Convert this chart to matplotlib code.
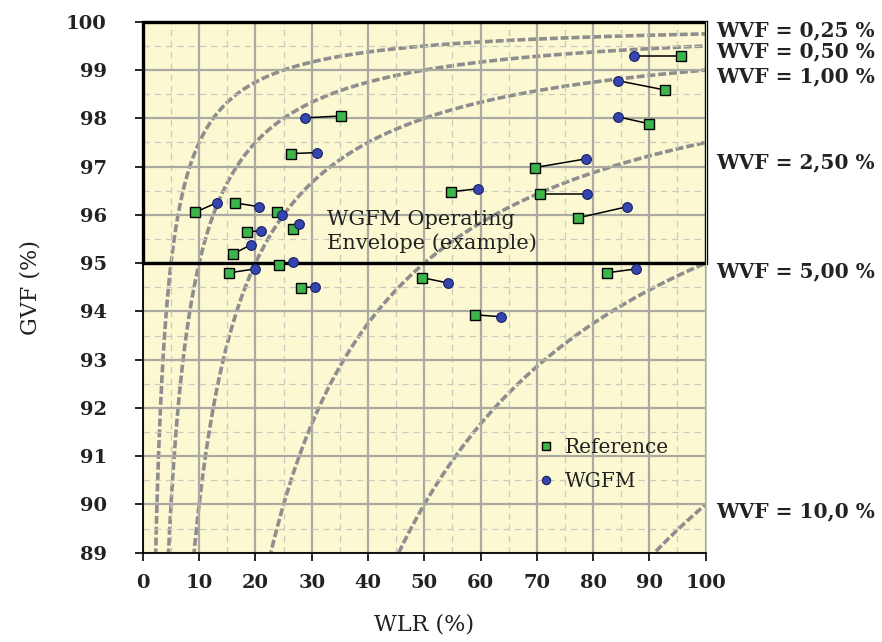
import numpy as np
import matplotlib.pyplot as plt
from matplotlib.patches import Rectangle

plt.rcParams['font.family'] = ['DejaVu Serif']

# Reference meter readings (WLR %, GVF %)
ref_wlr = [9.2, 16.3, 23.8, 26.6, 18.5, 16.0, 15.3, 24.2, 28.1, 49.6, 35.2,
           26.3, 95.7, 92.7, 89.9, 69.6, 54.7, 70.5, 77.4, 82.4, 59.1]
ref_gvf = [96.05, 96.25, 96.06, 95.71, 95.65, 95.19, 94.80, 94.97, 94.49, 94.70, 98.05,
           97.27, 99.30, 98.59, 97.89, 96.98, 96.48, 96.44, 95.94, 94.80, 93.93]

# WGFM readings, same order
wgfm_wlr = [13.1, 20.6, 24.7, 27.7, 21.0, 19.2, 19.9, 26.6, 30.6, 54.2, 28.8,
            30.9, 87.2, 84.4, 84.5, 78.7, 59.5, 79.0, 86.1, 87.6, 63.6]
wgfm_gvf = [96.25, 96.17, 96.00, 95.82, 95.67, 95.38, 94.88, 95.03, 94.51, 94.59, 98.01,
            97.29, 99.30, 98.78, 98.03, 97.16, 96.54, 96.44, 96.17, 94.88, 93.89]

# constant water volume fraction lines
wvf_levels = [0.25, 0.5, 1.0, 2.5, 5.0, 10.0]
wvf_labels = ['WVF = 0,25 %', 'WVF = 0,50 %', 'WVF = 1,00 %',
              'WVF = 2,50 %', 'WVF = 5,00 %', 'WVF = 10,0 %']
label_y = [99.83, 99.38, 98.88, 97.08, 94.84, 89.85]

fig = plt.figure(figsize=(8.82, 6.42), dpi=100)
ax = fig.add_axes([0.162, 0.139, 0.638, 0.827])
ax.set_facecolor('#fbf8d2')

ax.set_xlim(0, 100)
ax.set_ylim(89, 100)
ax.set_xticks(np.arange(0, 101, 10))
ax.set_yticks(np.arange(89, 101, 1))
ax.set_xticks(np.arange(5, 100, 10), minor=True)
ax.set_yticks(np.arange(89.5, 100, 1), minor=True)
ax.grid(which='major', color='#aaaaa2', lw=1.6, zorder=0)
ax.grid(which='minor', color='#cbcbbb', lw=0.9, ls=(0, (5, 4)), zorder=0)
ax.tick_params(which='minor', length=0)
ax.tick_params(which='major', length=6, width=1.2, labelsize=14,
               labelcolor='#222222')
ax.tick_params(axis='y', pad=20)
ax.tick_params(axis='x', pad=9)
for lab in ax.get_xticklabels() + ax.get_yticklabels():
    lab.set_fontweight('semibold')

ax.spines['top'].set_visible(False)
ax.spines['right'].set_color('#c8c8b8')
ax.spines['left'].set_linewidth(1.3)
ax.spines['bottom'].set_linewidth(1.3)

wlr = np.linspace(0.5, 100, 800)
for w in wvf_levels:
    gvf = 100 - 100 * w / wlr
    ax.plot(wlr, gvf, color='#8e8e8e', lw=2.6, ls=(0, (2.2, 0.8)), zorder=1)

for w, lab, y in zip(wvf_levels, wvf_labels, label_y):
    ax.text(101.8, y, lab, fontsize=14.5, fontweight='bold', va='center',
            ha='left', clip_on=False, color='#222222')

ax.add_patch(Rectangle((0, 95), 100, 5, fill=False, ec='black', lw=2.4,
                       zorder=2, clip_on=False))
ax.text(32.8, 95.65, 'WGFM Operating\nEnvelope (example)', fontsize=15,
        color='#222222', va='center', linespacing=1.25, zorder=2)

for x0, y0, x1, y1 in zip(ref_wlr, ref_gvf, wgfm_wlr, wgfm_gvf):
    ax.plot([x0, x1], [y0, y1], color='black', lw=1.1, zorder=3)

ax.plot(ref_wlr, ref_gvf, 's', ms=7.5, mfc='#3cb54a', mec='black', mew=1.0,
        ls='none', zorder=4, label='Reference')
ax.plot(wgfm_wlr, wgfm_gvf, 'o', ms=7, mfc='#3346b0', mec='#1a2060', mew=0.8,
        ls='none', zorder=4, label='WGFM')

leg = ax.legend(loc='center', bbox_to_anchor=(0.815, 0.166), frameon=False,
                fontsize=14.5, handletextpad=0.35, labelspacing=0.75,
                markerscale=0.85, handlelength=1.2)
for t in leg.get_texts():
    t.set_color('#222222')

ax.set_xlabel('WLR (%)', fontsize=16, labelpad=16, color='#222222')
ax.set_ylabel('GVF (%)', fontsize=16, labelpad=18, color='#222222')

fig.savefig('out.png', dpi=100)
